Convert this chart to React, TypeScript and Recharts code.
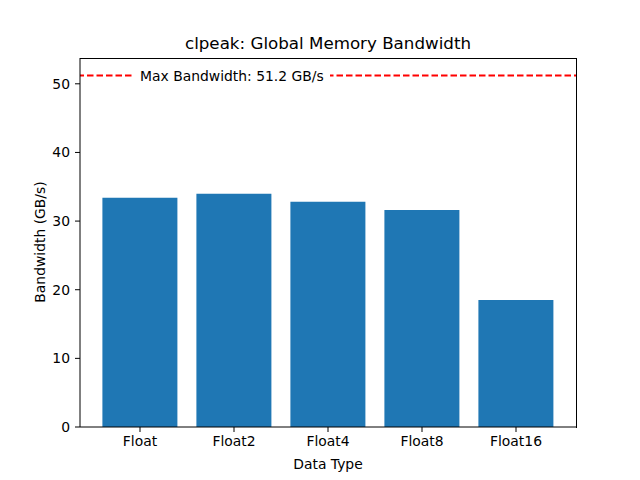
import React from 'react';
import { BarChart, Bar, XAxis, YAxis, ReferenceLine, Label } from 'recharts';

const dataTypes = ['Float', 'Float2', 'Float4', 'Float8', 'Float16'];
const bandwidth = [33.4, 34.0, 32.8, 31.6, 18.5];
const yTicks = [0, 10, 20, 30, 40, 50];
const maxBandwidth = 51.2;

const FONT = 'DejaVu Sans, sans-serif';
const tickStyle = { fontFamily: FONT, fontSize: 13.9, fill: '#000' };

const App = () => {
  const data = dataTypes.map((name, i) => ({ name, value: bandwidth[i] }));

  return (
    <div style={{ position: 'absolute', left: 0, top: 0, width: 640, height: 480, background: '#fff' }}>
      <BarChart
        width={640}
        height={480}
        data={data}
        margin={{ top: 58, right: 64, left: 0, bottom: 0 }}
        barCategoryGap="10%"
      >
        <XAxis
          dataKey="name"
          height={53}
          padding={{ left: 13, right: 13 }}
          stroke="#000"
          tickSize={5}
          tickMargin={4}
          tick={tickStyle}
        >
          <Label
            value="Data Type"
            position="insideBottom"
            offset={11}
            style={{ fontFamily: FONT, fontSize: 13.9, fill: '#000' }}
          />
        </XAxis>
        <YAxis
          width={80}
          domain={[0, maxBandwidth * 1.05]}
          ticks={yTicks}
          stroke="#000"
          tickSize={5}
          tickMargin={5}
          tick={tickStyle}
        >
          <Label
            content={() => (
              <text
                x={40}
                y={242}
                transform="rotate(-90 40 242)"
                textAnchor="middle"
                dominantBaseline="central"
                style={{ fontFamily: FONT, fontSize: 13.9, fill: '#000' }}
              >
                Bandwidth (GB/s)
              </text>
            )}
          />
        </YAxis>
        <Bar dataKey="value" fill="#1f77b4" isAnimationActive={false} />
        <ReferenceLine y={maxBandwidth} stroke="#ff0000" strokeWidth={2} strokeDasharray="6.5 3" />
      </BarChart>

      {/* top and right spines */}
      <div
        style={{
          position: 'absolute',
          left: 80,
          top: 58,
          width: 496,
          height: 369,
          borderTop: '1px solid #000',
          borderRight: '1px solid #000',
          pointerEvents: 'none',
        }}
      />

      <div
        style={{
          position: 'absolute',
          left: 0,
          top: 33,
          width: 656,
          textAlign: 'center',
          fontFamily: FONT,
          fontSize: 16.7,
          lineHeight: '20px',
          color: '#000',
        }}
      >
        clpeak: Global Memory Bandwidth
      </div>

      <div
        style={{
          position: 'absolute',
          left: 84,
          top: 66,
          width: 246,
          height: 19,
          background: '#fff',
          display: 'flex',
          alignItems: 'center',
        }}
      >
        <svg width={50} height={19}>
          <line x1={3} y1={9.5} x2={48} y2={9.5} stroke="#ff0000" strokeWidth={2} strokeDasharray="6.5 3" />
        </svg>
        <span style={{ marginLeft: 6, fontFamily: FONT, fontSize: 13.9, color: '#000', whiteSpace: 'nowrap' }}>
          Max Bandwidth: 51.2 GB/s
        </span>
      </div>
    </div>
  );
};

export default App;
